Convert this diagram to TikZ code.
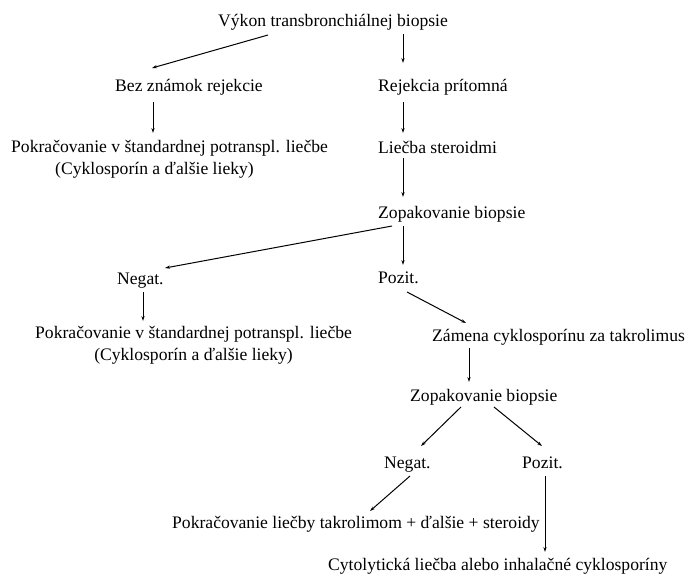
\documentclass[tikz,border=0pt]{standalone}
\usepackage{fontspec}
\setmainfont{Liberation Serif}
\usetikzlibrary{arrows.meta, calc}

\begin{document}
\begin{tikzpicture}[x=1pt, y=-1pt,
  every node/.style={inner sep=0pt, anchor=base west, font=\fontsize{17.6}{21.5}\selectfont},
  arr/.style={-{Stealth[length=5pt, width=3.2pt]}, line width=1pt}]
  \useasboundingbox (0,0) rectangle (693,576);

  % first biopsy
  \node (vykon) at (218,26) {Výkon transbronchiálnej biopsie};
  \node (bez) at (115,91) {Bez známok rejekcie};
  \node (rejekcia) at (378,91) {Rejekcia prítomná};
  \node[align=left] (pokr1) at (11,174) {Pokračovanie v štandardnej potranspl. liečbe\\\hspace*{44pt}(Cyklosporín a ďalšie lieky)};
  \node (liecba) at (378,153) {Liečba steroidmi};

  \draw[arr] ($(vykon.base west)+(50,9)$) -- ($(bez.base west)+(37,-23)$);
  \draw[arr] ($(vykon.base west)+(185,8)$) -- ($(rejekcia.base west)+(25,-28)$);
  \draw[arr] ($(bez.base west)+(38,11)$) -- ($(pokr1.base west)+(142,-41)$);
  \draw[arr] ($(rejekcia.base west)+(25,11)$) -- ($(liecba.base west)+(25,-20)$);

  % second biopsy
  \node (zopak1) at (378,218) {Zopakovanie biopsie};
  \node (negat1) at (117,284) {Negat.};
  \node (pozit1) at (378,283) {Pozit.};
  \node[align=center] (pokr2) at (35,360) {Pokračovanie v štandardnej potranspl. liečbe\\(Cyklosporín a ďalšie lieky)};
  \node (zamena) at (432,341) {Zámena cyklosporínu za takrolimus};

  \draw[arr] ($(liecba.base west)+(25,5)$) -- ($(zopak1.base west)+(25,-21)$);
  \draw[arr] ($(zopak1.base west)+(14,8)$) -- ($(negat1.base west)+(48,-16)$);
  \draw[arr] ($(zopak1.base west)+(25,8)$) -- ($(pozit1.base west)+(25,-18)$);
  \draw[arr] ($(negat1.base west)+(26,8)$) -- ($(pokr2.base west)+(108,-39)$);
  \draw[arr] ($(pozit1.base west)+(29,9)$) -- ($(zamena.base west)+(34,-18)$);

  % third biopsy
  \node (zopak2) at (410,401) {Zopakovanie biopsie};
  \node (negat2) at (384,468) {Negat.};
  \node (pozit2) at (522,468) {Pozit.};
  \node (pokr3) at (172,528) {Pokračovanie liečby takrolimom + ďalšie + steroidy};
  \node (cyto) at (328,570) {Cytolytická liečba alebo inhalačné cyklosporíny};

  \draw[arr] ($(zamena.base west)+(37,7)$) -- ($(zopak2.base west)+(59,-19)$);
  \draw[arr] ($(zopak2.base west)+(51,6)$) -- ($(negat2.base west)+(37,-22)$);
  \draw[arr] ($(zopak2.base west)+(84,6)$) -- ($(pozit2.base west)+(20,-22)$);
  \draw[arr] ($(negat2.base west)+(26,8)$) -- ($(pokr3.base west)+(198,-17)$);
  \draw[arr] ($(pozit2.base west)+(23,8)$) -- ($(cyto.base west)+(217,-18)$);
\end{tikzpicture}
\end{document}
